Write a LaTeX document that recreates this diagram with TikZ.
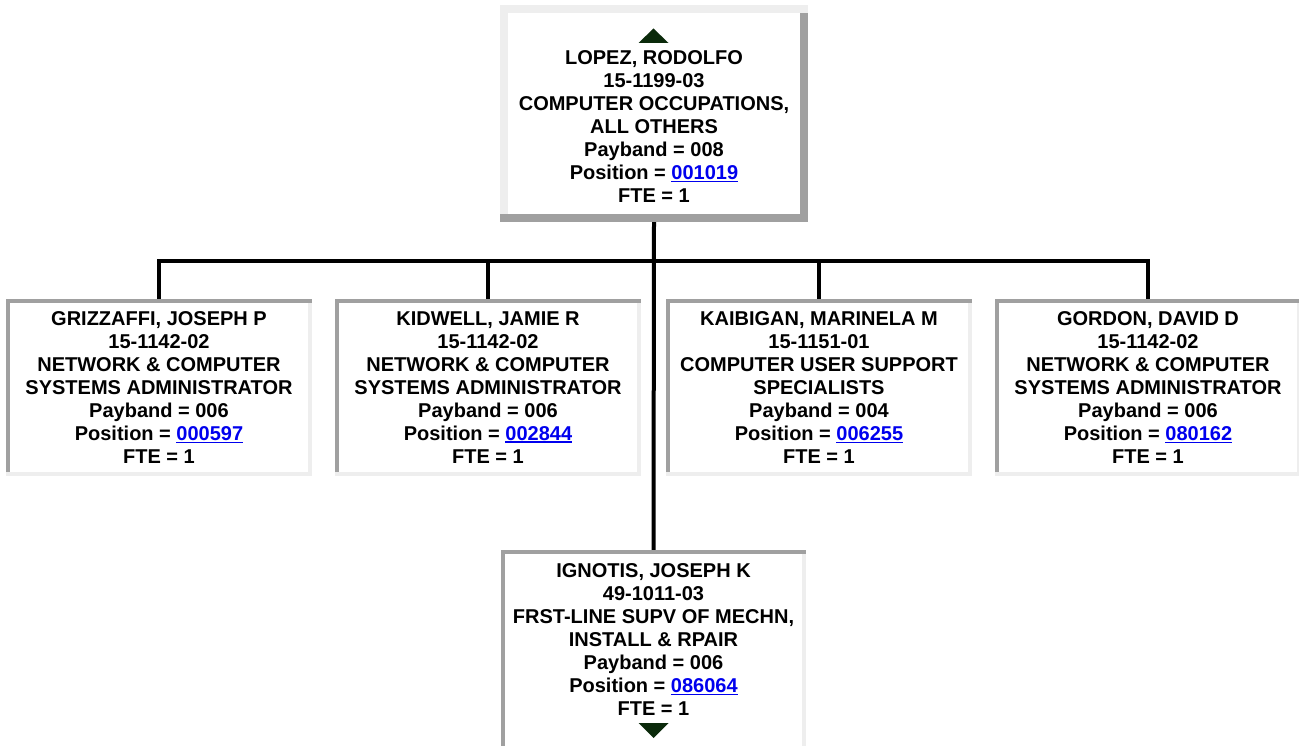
\documentclass[tikz,border=0pt]{standalone}
\usepackage{fontspec}
\setmainfont{Liberation Sans}
\definecolor{dk}{HTML}{A0A0A0}
\definecolor{lt}{HTML}{EEEEEE}
\definecolor{lnk}{HTML}{0000EE}
\definecolor{tri}{HTML}{0B2A0B}
\newcommand{\lnkk}[1]{{\color{lnk}\setbox0\hbox{#1}\rlap{\rule[-2.8pt]{\wd0}{1.6pt}}\box0}}
\tikzset{
  boxnode/.style={rectangle, inner sep=0pt, fill=white, minimum width=305pt, minimum height=177pt},
  txt/.style={align=center, inner sep=0pt, anchor=north, font=\fontsize{20}{23}\selectfont\bfseries},
  conn/.style={line width=4pt, black}
}
\begin{document}
\begin{tikzpicture}[x=1pt,y=-1pt]
\clip (0,0) rectangle (1299,746);
\fill[white] (0,0) rectangle (1299,746);
% top box
\node[boxnode, minimum width=308pt, minimum height=217pt] (top) at (654,113.5) {};
\fill[lt] (top.north west) rectangle ([yshift=-8pt]top.north east);
\fill[lt] (top.north west) rectangle ([xshift=8pt]top.south west);
\fill[dk] ([xshift=-8pt,yshift=-8pt]top.north east) rectangle (top.south east);
\fill[dk] ([yshift=8pt]top.south west) rectangle (top.south east);
% child boxes
\node[boxnode] (g) at (159,387.5) {};
\node[boxnode] (k) at (488,387.5) {};
\node[boxnode] (m) at (819,387.5) {};
\node[boxnode] (d) at (1148,387.5) {};
\node[boxnode, minimum height=220pt] (ig) at (653.5,660) {};
\foreach \n in {g,k,m,d,ig}{
  \fill[dk] (\n.north west) rectangle ([yshift=-4pt]\n.north east);
  \fill[dk] (\n.north west) rectangle ([xshift=4pt,yshift=4pt]\n.south west);
  \fill[lt] ([xshift=-4pt,yshift=-4pt]\n.north east) rectangle (\n.south east);
  \fill[lt] (\n.south west) rectangle ([yshift=4pt]\n.south east);
}
% connectors
\coordinate (bus) at (654,261);
\draw[conn] (top.south) -- (ig.north);
\draw[conn] (g.north) -- (g.north |- bus) -- (d.north |- bus) -- (d.north);
\draw[conn] (k.north) -- (k.north |- bus);
\draw[conn] (m.north) -- (m.north |- bus);
% triangles
\fill[tri] (638.5,43) -- (653.5,28.5) -- (668.5,43) -- cycle;
\fill[tri] (638.5,723) -- (653.5,738) -- (668.5,723) -- cycle;
% texts
\node[txt] (ttop) at (654,50.3) {LOPEZ, RODOLFO\\15-1199-03\\COMPUTER OCCUPATIONS,\\ALL OTHERS\\Payband = 008\\Position = \lnkk{001019}\\FTE = 1};
\node[txt] (tg) at (159,311.2) {GRIZZAFFI, JOSEPH P\\15-1142-02\\NETWORK \& COMPUTER\\SYSTEMS ADMINISTRATOR\\Payband = 006\\Position = \lnkk{000597}\\FTE = 1};
\node[txt] (tk) at (488,311.2) {KIDWELL, JAMIE R\\15-1142-02\\NETWORK \& COMPUTER\\SYSTEMS ADMINISTRATOR\\Payband = 006\\Position = \lnkk{002844}\\FTE = 1};
\node[txt] (tm) at (819,311.2) {KAIBIGAN, MARINELA M\\15-1151-01\\COMPUTER USER SUPPORT\\SPECIALISTS\\Payband = 004\\Position = \lnkk{006255}\\FTE = 1};
\node[txt] (td) at (1148,311.2) {GORDON, DAVID D\\15-1142-02\\NETWORK \& COMPUTER\\SYSTEMS ADMINISTRATOR\\Payband = 006\\Position = \lnkk{080162}\\FTE = 1};
\node[txt] (tig) at (653.5,563.2) {IGNOTIS, JOSEPH K\\49-1011-03\\FRST-LINE SUPV OF MECHN,\\INSTALL \& RPAIR\\Payband = 006\\Position = \lnkk{086064}\\FTE = 1};
\end{tikzpicture}
\end{document}
